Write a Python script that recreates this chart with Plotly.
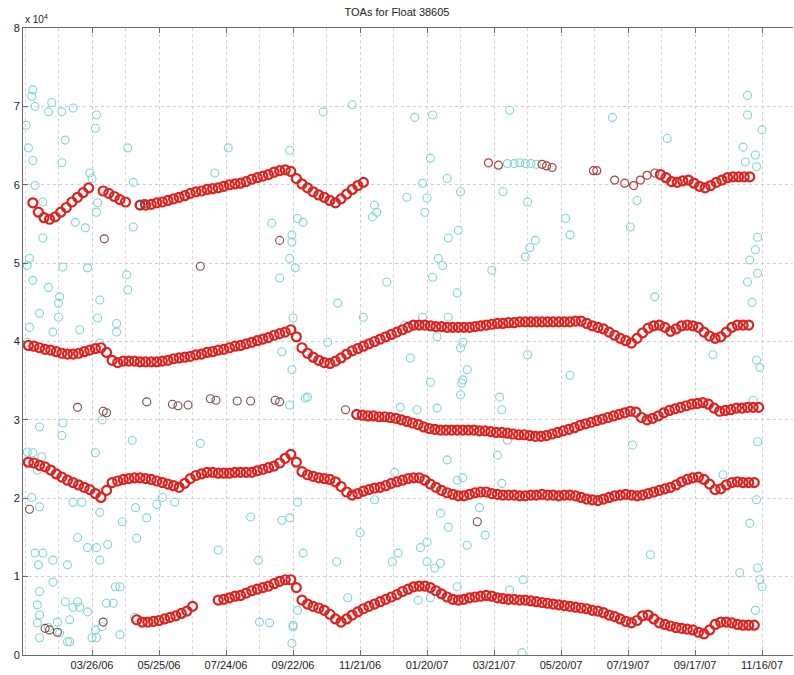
import pandas as pd
import plotly.graph_objects as go

BASE = pd.Timestamp("2006-01-01")

# ---------------- data (days since 2006-01-01, TOA values in thousands) -----
STEP = 5
# dense red tracks: (first day, values sampled every STEP days)
A1_start, A1 = 31, [57.7, 56.5, 55.8, 55.6, 55.9, 56.5, 57.1, 57.8, 58.4, 59.0, 59.6]
A2_start, A2 = 94, [59.2, 58.9, 58.5, 58.1, 57.8]
A3_start, A3 = 127, [57.4, 57.4, 57.5, 57.7, 57.8, 58.0, 58.2, 58.4, 58.6, 58.9, 59.1,
                     59.2, 59.4, 59.5, 59.6, 59.8, 60.0, 60.1, 60.2, 60.4, 60.7, 60.9,
                     61.1, 61.3, 61.6, 61.8, 61.9, 61.7, 60.8, 60.1, 59.6, 59.1, 58.7,
                     58.4, 58.0, 57.7, 58.2, 58.8, 59.4, 59.9, 60.3]
A5_start, A5 = 593, [61.3, 60.9, 60.4, 60.3, 60.5, 60.6, 60.2, 59.8, 59.6, 59.9, 60.3,
                     60.6, 60.9, 61.0, 61.0, 61.0, 61.0]
B_start, B = 27, [39.5, 39.4, 39.2, 39.0, 38.9, 38.7, 38.5, 38.4, 38.4, 38.5, 38.7, 38.9,
                  39.1, 39.2, 38.6, 37.6, 37.3, 37.5, 37.5, 37.5, 37.4, 37.4, 37.4, 37.4,
                  37.5, 37.6, 37.8, 37.9, 38.0, 38.1, 38.3, 38.4, 38.6, 38.7, 38.9, 39.0,
                  39.2, 39.4, 39.5, 39.7, 39.9, 40.1, 40.3, 40.5, 40.8, 41.0, 41.2, 41.5,
                  40.6, 39.2, 38.5, 38.0, 37.6, 37.3, 37.2, 37.5, 37.9, 38.4, 38.8, 39.1,
                  39.4, 39.7, 40.0, 40.3, 40.6, 40.9, 41.2, 41.5, 41.8, 42.1, 42.1, 42.1,
                  42.0, 41.9, 41.9, 41.8, 41.8, 41.8, 41.8, 41.8, 41.9, 42.0, 42.1, 42.2,
                  42.3, 42.3, 42.4, 42.4, 42.5, 42.5, 42.5, 42.5, 42.5, 42.5, 42.5, 42.5,
                  42.5, 42.5, 42.6, 42.6, 42.3, 42.0, 41.8, 41.6, 41.2, 40.8, 40.4, 40.1,
                  39.8, 40.4, 41.1, 41.7, 42.0, 42.1, 41.8, 41.3, 41.6, 42.0, 42.1, 42.0,
                  41.8, 41.2, 40.7, 40.4, 40.6, 41.2, 41.8, 42.1, 42.1, 42.1]
C_start, C = 321, [30.7, 30.6, 30.5, 30.5, 30.4, 30.4, 30.3, 30.2, 30.0, 29.8, 29.6, 29.4,
                   29.1, 28.9, 28.8, 28.7, 28.7, 28.7, 28.7, 28.7, 28.7, 28.7, 28.6, 28.6,
                   28.5, 28.4, 28.4, 28.3, 28.2, 28.1, 28.1, 28.0, 27.9, 27.9, 28.0, 28.2,
                   28.4, 28.6, 28.8, 29.0, 29.3, 29.5, 29.7, 29.9, 30.1, 30.3, 30.5, 30.7,
                   30.9, 31.1, 31.0, 30.3, 30.0, 30.2, 30.5, 30.9, 31.2, 31.4, 31.6, 31.8,
                   32.0, 32.1, 32.2, 32.0, 31.5, 31.1, 31.2, 31.3, 31.5, 31.5, 31.6, 31.6,
                   31.6]
D_start, D = 27, [24.6, 24.5, 24.2, 24.0, 23.6, 23.1, 22.7, 22.3, 22.0, 21.7, 21.4, 21.1,
                  20.6, 20.1, 21.0, 22.0, 22.2, 22.4, 22.5, 22.6, 22.6, 22.5, 22.4, 22.2,
                  22.0, 21.8, 21.6, 21.4, 21.9, 22.5, 22.9, 23.1, 23.3, 23.3, 23.2, 23.2,
                  23.2, 23.3, 23.3, 23.3, 23.3, 23.5, 23.7, 23.9, 24.1, 24.5, 25.1, 25.6,
                  24.6, 23.4, 23.0, 22.8, 22.6, 22.5, 22.4, 22.1, 21.5, 20.8, 20.4, 20.6,
                  20.9, 21.1, 21.3, 21.4, 21.6, 21.9, 22.1, 22.3, 22.5, 22.6, 22.6, 22.3,
                  21.8, 21.4, 21.0, 20.7, 20.5, 20.3, 20.3, 20.5, 20.7, 20.8, 20.8, 20.6,
                  20.5, 20.4, 20.4, 20.4, 20.3, 20.3, 20.4, 20.4, 20.5, 20.4, 20.4, 20.3,
                  20.4, 20.4, 20.3, 20.1, 19.9, 19.8, 19.7, 19.9, 20.1, 20.3, 20.4, 20.5,
                  20.4, 20.3, 20.4, 20.6, 20.8, 21.0, 21.2, 21.4, 21.7, 22.1, 22.4, 22.6,
                  22.7, 22.4, 21.8, 21.1, 21.2, 21.7, 22.0, 22.1, 22.0, 22.0, 22.0]
E1_start, E1 = 124, [4.5, 4.2, 4.2, 4.3, 4.4, 4.6, 4.8, 5.0, 5.3, 5.6, 6.2]
E2_start, E2 = 197, [7.0, 7.1, 7.3, 7.5, 7.6, 7.9, 8.2, 8.4, 8.6, 8.8, 9.1, 9.4, 9.6, 9.6,
                     8.6, 7.0, 6.5, 6.2, 6.0, 5.7, 5.2, 4.6, 4.2, 4.6, 5.1, 5.5, 5.9, 6.2,
                     6.5, 6.8, 7.1, 7.4, 7.7, 8.1, 8.4, 8.7, 8.8, 8.8, 8.6, 8.2, 7.8, 7.4,
                     7.1, 7.0, 7.1, 7.3, 7.4, 7.5, 7.6, 7.5, 7.3, 7.2, 7.1, 7.1, 7.0, 7.0,
                     6.9, 6.8, 6.7, 6.6, 6.5, 6.4, 6.3, 6.2, 6.1, 6.0, 5.9, 5.7, 5.6, 5.4,
                     5.1, 4.9, 4.6, 4.3, 4.1, 4.4, 5.0, 5.1, 4.6, 4.1, 3.9, 3.7, 3.5, 3.4,
                     3.3, 3.2, 2.9, 2.7, 3.2, 3.9, 4.2, 4.2, 4.1, 3.9, 3.8, 3.8, 3.8]

# sparse red points (explicit days / values)
A4_days = [439, 448, 487, 491, 496, 533, 536, 552, 561, 569, 575, 581, 588]
A4_vals = [62.8, 62.5, 62.6, 62.4, 62.2, 61.8, 61.8, 60.6, 60.2, 59.9, 60.6, 61.2, 61.5]

# dark (brownish) isolated circles
dark_days = [71, 94, 97, 133, 156, 161, 170, 190, 195, 214, 226, 248, 252, 311,
             42, 46, 53, 94, 95, 181, 252, 28, 429, 127, 131]
dark_vals = [31.6, 31.1, 30.9, 32.3, 32.0, 31.8, 31.9, 32.7, 32.5, 32.4, 32.4, 32.5, 32.3, 31.3,
             3.4, 3.2, 2.9, 4.2, 53.1, 49.6, 52.9, 18.6, 17.0, 57.4, 57.6]

# cyan scattered detections
cyan_days = [31, 30, 33, 48, 45, 57, 67, 88, 25, 27, 60, 87, 116, 206, 31, 57, 82, 84, 33, 40,
             89, 88, 69, 78, 121, 121, 194, 245, 40, 28, 26, 31, 58, 80, 115, 45, 116, 55, 54, 91,
             37, 54, 89, 106, 28, 49, 73, 106, 26, 91,
             37, 58, 57, 93, 120, 181, 26, 31, 39, 35, 87, 30, 37, 67, 75, 91, 123, 142, 147, 158,
             111, 133, 226, 71, 80, 88, 98, 124, 91, 197, 233, 33, 40, 36, 49, 62, 49, 37, 105, 109,
             35, 60, 67, 71, 80, 97, 103, 64, 53, 35, 45, 37, 64, 87, 84, 109, 234, 243, 122, 37,
             55, 62, 73, 88, 93, 263, 264,
             261, 387, 402, 380, 384, 382, 366, 414, 452, 474, 268, 273, 335, 339, 337, 263, 263, 261, 266, 412,
             403, 394, 398, 389, 442, 472, 252, 348, 411, 304, 327, 264, 380, 403, 254, 295, 369, 393, 416, 414,
             263, 387, 420, 416, 414, 277, 449, 415, 261, 275, 451, 360, 375, 393, 456, 402, 355, 447, 411, 416,
             451, 431, 268, 337, 396, 403, 254, 261, 436, 324, 273, 358, 353, 378, 384, 384, 396, 391, 420, 303,
             470, 411, 458, 376, 387, 313, 268, 264, 508, 512, 481, 476, 572, 566, 588, 474, 512, 568, 291, 317,
             373, 389, 458, 550, 469,
             456, 462, 467, 472, 477, 482, 364, 370, 376, 364, 385, 392, 396, 402, 409, 415,
             671, 671, 684, 599, 667, 678, 669, 679, 680, 678, 673, 680, 671, 675, 640, 679, 682, 676, 680, 649,
             679, 673, 584, 664, 680, 682, 684, 678]
cyan_vals = [72.1, 71.3, 70.0, 70.5, 69.3, 69.3, 69.8, 68.9, 67.6, 64.7, 65.7, 67.2, 64.7, 64.7, 63.1, 62.8, 61.5, 60.8, 59.9, 57.8,
             57.7, 56.5, 55.2, 54.5, 60.3, 54.6, 61.5, 55.1, 53.2, 50.6, 49.7, 47.8, 49.5, 49.4, 48.5, 46.9, 46.6, 45.7, 44.9, 45.3,
             43.6, 43.1, 43.0, 42.3, 41.8, 41.2, 41.5, 41.2, 39.9, 39.8,
             29.1, 29.6, 28.0, 30.0, 27.4, 27.0, 25.9, 25.8, 25.3, 23.6, 25.8, 20.1, 18.9, 19.5, 19.5, 18.2, 18.8, 19.2, 20.1, 19.5,
             17.0, 17.5, 17.6, 15.0, 13.7, 13.7, 14.1, 14.9, 12.1, 13.4, 12.1, 13.0, 13.0, 11.5, 12.1, 11.5, 9.3, 8.1, 8.7, 8.7,
             6.4, 6.8, 6.1, 6.8, 5.5, 6.6, 6.6, 4.5, 4.2, 4.1, 3.5, 2.2, 1.7, 3.2, 2.2, 2.6, 4.2, 4.1, 4.8, 5.1,
             2.8, 1.7, 6.1, 2.2, 3.6, 1.5, 3.8,
             64.4, 63.4, 60.8, 60.2, 58.3, 56.5, 58.4, 59.1, 59.1, 57.8, 55.7, 55.2, 55.9, 56.5, 57.4, 53.6, 52.7, 50.6, 49.4, 54.2,
             53.2, 50.6, 49.7, 48.2, 49.1, 50.8, 48.1, 47.6, 46.2, 44.9, 43.1, 43.0, 43.1, 43.1, 38.7, 39.9, 37.9, 40.6, 39.9, 39.2,
             36.4, 34.8, 36.4, 35.1, 33.2, 32.9, 32.9, 34.7, 31.9, 32.8, 31.3, 31.6, 31.3, 31.5, 27.4, 24.9, 23.3, 25.5, 22.3, 22.6,
             21.9, 18.8, 19.5, 19.8, 18.1, 16.3, 17.2, 17.5, 15.3, 15.6, 13.0, 13.0, 11.9, 13.7, 14.4, 11.9, 11.7, 11.1, 14.0, 11.9,
             9.6, 8.7, 8.3, 7.0, 7.3, 7.3, 5.7, 3.6, 55.7, 53.6, 52.9, 52.0, 58.0, 54.6, 45.7, 38.3, 35.7, 26.8, 69.3, 70.2,
             68.6, 68.9, 69.5, 68.6, 0.3,
             62.7, 62.7, 62.8, 62.7, 62.7, 62.6, 42.1, 42.1, 42.1, 29.9, 28.9, 28.8, 7.9, 7.5, 7.1, 7.0,
             71.4, 68.9, 67.0, 65.9, 64.8, 63.8, 62.9, 62.3, 53.3, 51.7, 50.4, 48.7, 47.6, 45.0, 38.3, 37.6, 36.7, 32.5, 27.2, 23.0,
             19.8, 16.8, 12.8, 10.5, 11.1, 9.6, 8.7, 5.7]

Y_TICKS = [0, 1, 2, 3, 4, 5, 6, 7, 8]          # axis shown in units of 10^4
X_TICK_DATES = ["2006-03-26", "2006-05-25", "2006-07-24", "2006-09-22", "2006-11-21",
                "2007-01-20", "2007-03-21", "2007-05-20", "2007-07-19", "2007-09-17",
                "2007-11-16"]
TITLE = "TOAs for Float 38605"


def to_dates(days):
    return [BASE + pd.Timedelta(days=d) for d in days]


def track(start, vals):
    days = [start + STEP * i for i in range(len(vals))]
    return to_dates(days), [v * 1000 for v in vals]


fig = go.Figure()

RED = "#dc2320"
CYAN = "#7ed6d6"
DARK = "#7a4a48"

fig.add_trace(go.Scatter(x=to_dates(cyan_days), y=[v * 1000 for v in cyan_vals], mode="markers",
                         marker=dict(symbol="circle-open", size=8, color=CYAN, line=dict(width=1.1)),
                         showlegend=False, hoverinfo="skip"))

for st, vals in [(A1_start, A1), (A2_start, A2), (A3_start, A3), (A5_start, A5),
                 (B_start, B), (C_start, C), (D_start, D), (E1_start, E1), (E2_start, E2)]:
    xs, ys = track(st, vals)
    fig.add_trace(go.Scatter(x=xs, y=ys, mode="markers",
                             marker=dict(symbol="circle-open", size=9, color=RED, line=dict(width=2.2)),
                             showlegend=False, hoverinfo="skip"))

fig.add_trace(go.Scatter(x=to_dates(A4_days), y=[v * 1000 for v in A4_vals], mode="markers",
                         marker=dict(symbol="circle-open", size=8, color="#b04040", line=dict(width=1.2)),
                         showlegend=False, hoverinfo="skip"))
fig.add_trace(go.Scatter(x=to_dates(dark_days), y=[v * 1000 for v in dark_vals], mode="markers",
                         marker=dict(symbol="circle-open", size=8, color=DARK, line=dict(width=1.1)),
                         showlegend=False, hoverinfo="skip"))

FONT = "Liberation Sans, Arial, sans-serif"
AXC = "#6a6a6a"
DAY_MS = 86400000

fig.update_layout(
    width=794, height=675,
    margin=dict(l=23, r=1, t=28, b=20, autoexpand=False),
    paper_bgcolor="white", plot_bgcolor="white",
    font=dict(family=FONT, size=11, color="#222"),
    title=dict(text=TITLE, x=0.5, xanchor="center", y=0.982, yanchor="middle",
               font=dict(family=FONT, size=11, color="#222")),
    showlegend=False,
)

fig.update_xaxes(
    type="date", automargin=False,
    range=[BASE + pd.Timedelta(days=22.2), BASE + pd.Timedelta(days=711.7)],
    tickvals=X_TICK_DATES, tickformat="%m/%d/%y",
    ticks="inside", ticklen=5, tickcolor=AXC,
    showline=True, linecolor=AXC, linewidth=1, mirror="ticks",
    showgrid=True, gridcolor="#cfcfcf", griddash="dot", gridwidth=1,
    minor=dict(dtick=30 * DAY_MS, tick0="2006-02-24", showgrid=True,
               gridcolor="#d6d6d6", griddash="dot", ticks=""),
    zeroline=False,
    tickfont=dict(family=FONT, size=11, color="#222"),
)
fig.update_yaxes(
    range=[0, 80000], automargin=False,
    tickvals=[t * 10000 for t in Y_TICKS], ticktext=[str(t) for t in Y_TICKS],
    ticks="inside", ticklen=5, tickcolor=AXC,
    showline=True, linecolor=AXC, linewidth=1, mirror=False,
    showgrid=True, gridcolor="#cfcfcf", griddash="dot", gridwidth=1,
    zeroline=False,
    tickfont=dict(family=FONT, size=11, color="#222"),
)

fig.add_annotation(text="x 10<sup>4</sup>", xref="paper", yref="paper", x=0.0, y=1.0,
                   xanchor="left", yanchor="bottom", yshift=1, showarrow=False,
                   font=dict(family=FONT, size=10, color="#222"))

# remove the browser's default 8px page margin so the figure sits at the top-left corner
fig.write_html("out.html", config={"displayModeBar": False, "staticPlot": True},
               post_script="document.body.style.margin='0px';")
